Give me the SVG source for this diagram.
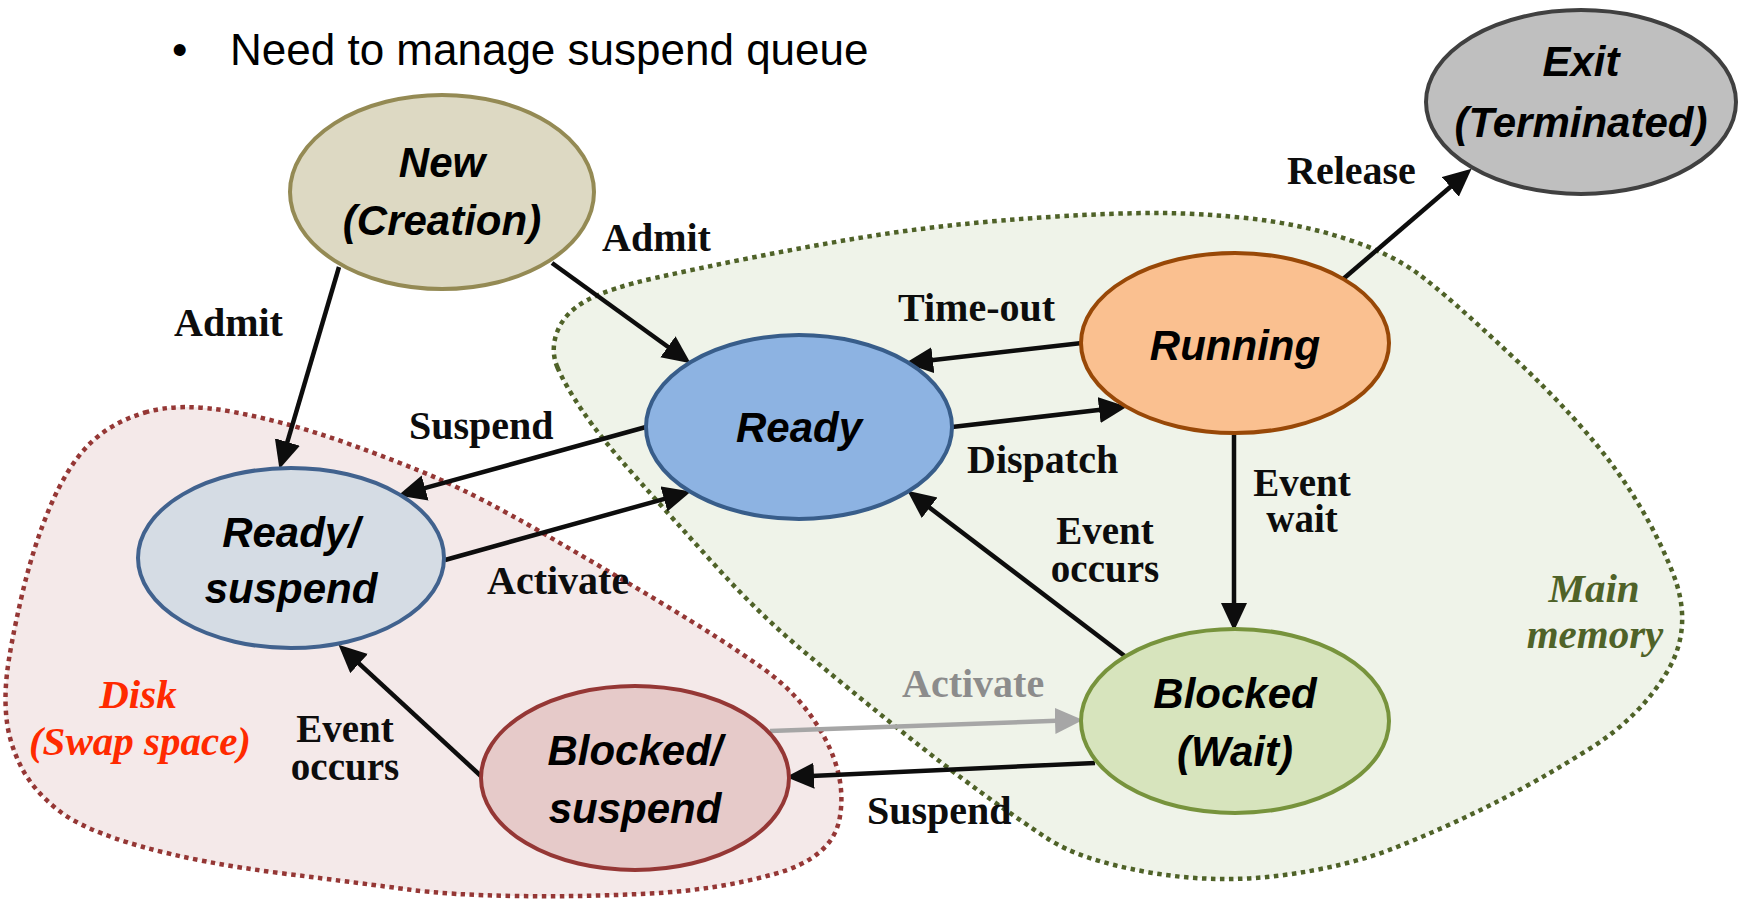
<svg xmlns="http://www.w3.org/2000/svg" width="1742" height="919" viewBox="0 0 1742 919">
<style>
.node-el{stroke-width:4}
.nt{font-family:"Liberation Sans",Arial,sans-serif;font-weight:bold;font-style:italic;font-size:42px;fill:#000;text-anchor:middle}
.lbl{font-family:"Liberation Serif","Times New Roman",serif;font-weight:bold;font-size:40px;fill:#0D0D0D}
.lbl2{font-family:"Liberation Serif","Times New Roman",serif;font-weight:bold;font-size:39px;fill:#0D0D0D;text-anchor:middle}
.edge{stroke:#0D0D0D;stroke-width:4.5;fill:none;marker-end:url(#ah)}
.edge-gray{stroke:#A6A6A6;stroke-width:4.5;fill:none;marker-end:url(#ahg)}
.region{stroke-width:4.5;stroke-dasharray:4.5 4.5}
.rl{font-family:"Liberation Serif","Times New Roman",serif;font-weight:bold;font-style:italic;font-size:41px;text-anchor:middle}
</style>
<defs>
<marker id="ah" markerUnits="userSpaceOnUse" markerWidth="30" markerHeight="28" refX="8" refY="13" orient="auto"><path d="M0,0 L28,13 L0,26 Z" fill="#0D0D0D"/></marker>
<marker id="ahg" markerUnits="userSpaceOnUse" markerWidth="30" markerHeight="28" refX="8" refY="13" orient="auto"><path d="M0,0 L28,13 L0,26 Z" fill="#A6A6A6"/></marker>
</defs>
<rect width="1742" height="919" fill="#FFFFFF"/>
<g id="header">
<text x="172" y="65" style="font-family:'Liberation Sans',Arial,sans-serif;font-size:44px;fill:#000">•</text>
<text x="230" y="65" style="font-family:'Liberation Sans',Arial,sans-serif;font-size:44px;fill:#000">Need to manage suspend queue</text>
</g>
<g id="region-main-memory">
<path class="region" fill="#EFF3E9" stroke="#4F6228" d="M557.5,367.5 Q550,350 557.5,331 Q565,312 587.5,300 Q610,288 655,278 Q700,268 750,258 Q800,248 850,239.5 Q900,231 950,225.5 Q1000,220 1057,216.5 Q1114,213 1157,213 Q1200,213 1250,218.5 Q1300,224 1345,238.5 Q1390,253 1418.5,274 Q1447,295 1513.5,357.5 Q1580,420 1616,470 Q1652,520 1673,573.5 Q1694,627 1667,672 Q1640,717 1590,748.5 Q1540,780 1493.5,803.5 Q1447,827 1397,847 Q1347,867 1280.5,875.5 Q1214,884 1147,872 Q1080,860 1047.5,838.5 Q1015,817 980.5,792 Q946,767 898,728.5 Q850,690 805,652.5 Q760,615 717,567.5 Q674,520 637,478.5 Q600,437 582.5,411 Q565,385 557.5,367.5 Z"/>
<text class="rl" x="1594" y="602" fill="#4F6228">Main</text>
<text class="rl" x="1595" y="648" fill="#4F6228">memory</text>
</g>
<g id="region-disk">
<path class="region" fill="#F4E9E9" stroke="#953735" d="M145,412.5 Q180,402 233.5,412 Q287,422 343.5,442 Q400,462 440,479.5 Q480,497 540,531.5 Q600,566 661.5,603 Q723,640 763,668.5 Q803,697 825,738.5 Q847,780 839.5,819 Q832,858 774.5,874 Q717,890 650,893.5 Q583,897 516.5,896 Q450,895 408.5,889.5 Q367,884 283.5,873.5 Q200,863 141.5,846.5 Q83,830 58,810 Q33,790 21.5,767.5 Q10,745 7,722.5 Q4,700 7,673.5 Q10,647 21.5,597 Q33,547 50,507 Q67,467 88.5,445 Q110,423 145,412.5 Z"/>
<text class="rl" x="138" y="708" fill="#FF2A00">Disk</text>
<text class="rl" x="140" y="755" fill="#FF2A00">(Swap space)</text>
</g>
<g id="connectors">
<line class="edge" x1="552" y1="263" x2="674.4" y2="351.5"/>
<line class="edge" x1="339" y1="267" x2="285.1" y2="449.7"/>
<line class="edge" x1="1342" y1="280" x2="1456.4" y2="181.7"/>
<line class="edge" x1="1082" y1="343" x2="924.9" y2="361"/>
<line class="edge" x1="952" y1="427" x2="1107.1" y2="409.1"/>
<line class="edge" x1="1234" y1="435" x2="1234" y2="611"/>
<line class="edge" x1="1126" y1="657" x2="923.3" y2="502.9"/>
<line class="edge" x1="646" y1="427" x2="417.4" y2="490.2"/>
<line class="edge" x1="445" y1="560" x2="671.7" y2="496.8"/>
<line class="edge" x1="482" y1="777" x2="353.2" y2="658.2"/>
<line class="edge-gray" x1="770" y1="731" x2="1063" y2="720.6"/>
<line class="edge" x1="1095" y1="763" x2="806" y2="776.2"/>
<text class="lbl" x="602" y="251">Admit</text>
<text class="lbl" x="174" y="336">Admit</text>
<text class="lbl" x="1287" y="184">Release</text>
<text class="lbl" x="898" y="321">Time-out</text>
<text class="lbl" x="967" y="473">Dispatch</text>
<text class="lbl2" x="1302" y="496">Event</text>
<text class="lbl2" x="1302" y="532">wait</text>
<text class="lbl2" x="1105" y="544">Event</text>
<text class="lbl2" x="1105" y="582">occurs</text>
<text class="lbl" x="409" y="439">Suspend</text>
<text class="lbl" x="487" y="594">Activate</text>
<text class="lbl2" x="345" y="742">Event</text>
<text class="lbl2" x="345" y="780">occurs</text>
<text class="lbl" x="902" y="697" style="fill:#8C8C8C">Activate</text>
<text class="lbl" x="867" y="824">Suspend</text>
</g>
<g id="node-new">
<ellipse class="node-el" cx="442" cy="192" rx="152" ry="97" fill="#DDD9C3" stroke="#948A54"/>
<text class="nt" x="442" y="177">New</text>
<text class="nt" x="442" y="235">(Creation)</text>
</g>
<g id="node-exit">
<ellipse class="node-el" cx="1581" cy="102" rx="155" ry="92" fill="#BFBFBF" stroke="#404040"/>
<text class="nt" x="1581" y="76">Exit</text>
<text class="nt" x="1581" y="137">(Terminated)</text>
</g>
<g id="node-ready">
<ellipse class="node-el" cx="799" cy="427" rx="153" ry="92" fill="#8DB3E2" stroke="#385D8A"/>
<text class="nt" x="799" y="442">Ready</text>
</g>
<g id="node-running">
<ellipse class="node-el" cx="1235" cy="343" rx="154" ry="90" fill="#FAC090" stroke="#984807"/>
<text class="nt" x="1235" y="360">Running</text>
</g>
<g id="node-ready-suspend">
<ellipse class="node-el" cx="291" cy="558" rx="153" ry="90" fill="#D5DCE4" stroke="#41628E"/>
<text class="nt" x="291" y="547">Ready/</text>
<text class="nt" x="291" y="603">suspend</text>
</g>
<g id="node-blocked">
<ellipse class="node-el" cx="1235" cy="721" rx="154" ry="92" fill="#D7E4BD" stroke="#77933C"/>
<text class="nt" x="1235" y="708">Blocked</text>
<text class="nt" x="1235" y="766">(Wait)</text>
</g>
<g id="node-blocked-suspend">
<ellipse class="node-el" cx="635" cy="778" rx="154" ry="92" fill="#E6CAC9" stroke="#953735"/>
<text class="nt" x="635" y="765">Blocked/</text>
<text class="nt" x="635" y="823">suspend</text>
</g>
</svg>
